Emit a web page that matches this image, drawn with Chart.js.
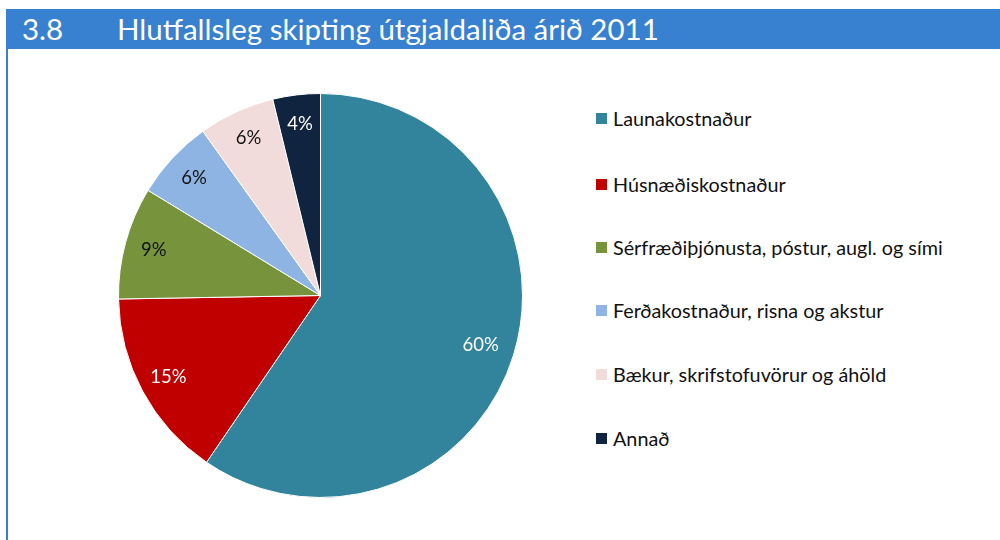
<!DOCTYPE html>
<html>
<head>
<meta charset="utf-8">
<script src="https://cdn.jsdelivr.net/npm/chart.js@4"></script>
<style>
    body { margin: 0; width: 1000px; height: 540px; background: #fff; position: relative; overflow: hidden; font-family: Lato, 'Open Sans', sans-serif; }
    #header { position: absolute; left: 6px; top: 9px; width: 994px; height: 40px; background: #3880d0; color: #fff; font-size: 29.5px; line-height: 40px; white-space: nowrap; }
    #header .num { position: absolute; left: 16px; }
    #header .title { position: absolute; left: 111px; }
    #leftBorder { position: absolute; left: 6px; top: 49px; width: 2px; height: 491px; background: #3880d0; }
    #chartBox { position: absolute; left: 118px; top: 93px; width: 405px; height: 405px; }
    #legend { position: absolute; left: 596px; top: 0; }
    .item { position: absolute; left: 0; white-space: nowrap; font-size: 19.8px; color: #111; }
    .item .box { position: absolute; left: 0; top: 6px; width: 11px; height: 11px; }
    .item .txt { position: absolute; left: 17px; top: 0; line-height: 22px; }
</style>
</head>
<body>
<div id="header"><span class="num">3.8</span><span class="title">Hlutfallsleg skipting útgjaldaliða árið 2011</span></div>
<div id="leftBorder"></div>
<div id="chartBox"><canvas id="pieChart"></canvas></div>
<div id="legend"></div>
<script>
// Data
const categories = ['Launakostnaður', 'Húsnæðiskostnaður', 'Sérfræðiþjónusta, póstur, augl. og sími', 'Ferðakostnaður, risna og akstur', 'Bækur, skrifstofuvörur og áhöld', 'Annað'];
const shares = [59.6, 15.2, 9.0, 6.4, 6.1, 3.8];
const percentLabels = ['60%', '15%', '9%', '6%', '6%', '4%'];
const sliceColors = ['#31849b', '#c00000', '#77933c', '#8eb4e3', '#f2dcdb', '#10243f'];
const labelColors = ['#ffffff', '#ffffff', '#111111', '#111111', '#111111', '#ffffff'];
const legendTops = [107, 173, 236, 299, 363, 427];

// Legend as plain HTML next to the pie
function buildLegend() {
    const legend = document.getElementById('legend');
    categories.forEach((name, i) => {
        const item = document.createElement('div');
        item.className = 'item';
        item.style.top = legendTops[i] + 'px';
        item.innerHTML = `<span class="box" style="background:${sliceColors[i]}"></span><span class="txt">${name}</span>`;
        legend.appendChild(item);
    });
}

// Draw the percent labels inside each slice
const sliceLabels = {
    id: 'sliceLabels',
    afterDatasetsDraw(chart) {
        const ctx = chart.ctx;
        const meta = chart.getDatasetMeta(0);
        ctx.save();
        ctx.font = '18.5px Lato, "Open Sans", sans-serif';
        ctx.textAlign = 'center';
        ctx.textBaseline = 'middle';
        meta.data.forEach((arc, i) => {
            const p = arc.getProps(['x', 'y', 'startAngle', 'endAngle', 'outerRadius']);
            const mid = (p.startAngle + p.endAngle) / 2;
            const r = p.outerRadius * (i === 0 ? 0.83 : 0.855);
            ctx.fillStyle = labelColors[i];
            ctx.fillText(percentLabels[i], p.x + Math.cos(mid) * r, p.y + Math.sin(mid) * r);
        });
        ctx.restore();
    }
};

function initializePie() {
    const ctx = document.getElementById('pieChart').getContext('2d');
    new Chart(ctx, {
        type: 'pie',
        data: {
            labels: categories,
            datasets: [{
                data: shares,
                backgroundColor: sliceColors,
                borderColor: '#ffffff',
                borderWidth: 1
            }]
        },
        options: {
            responsive: true,
            maintainAspectRatio: false,
            animation: false,
            layout: { padding: 0 },
            plugins: {
                legend: { display: false },
                tooltip: { enabled: false }
            }
        },
        plugins: [sliceLabels]
    });
}

buildLegend();
initializePie();
</script>
</body>
</html>
